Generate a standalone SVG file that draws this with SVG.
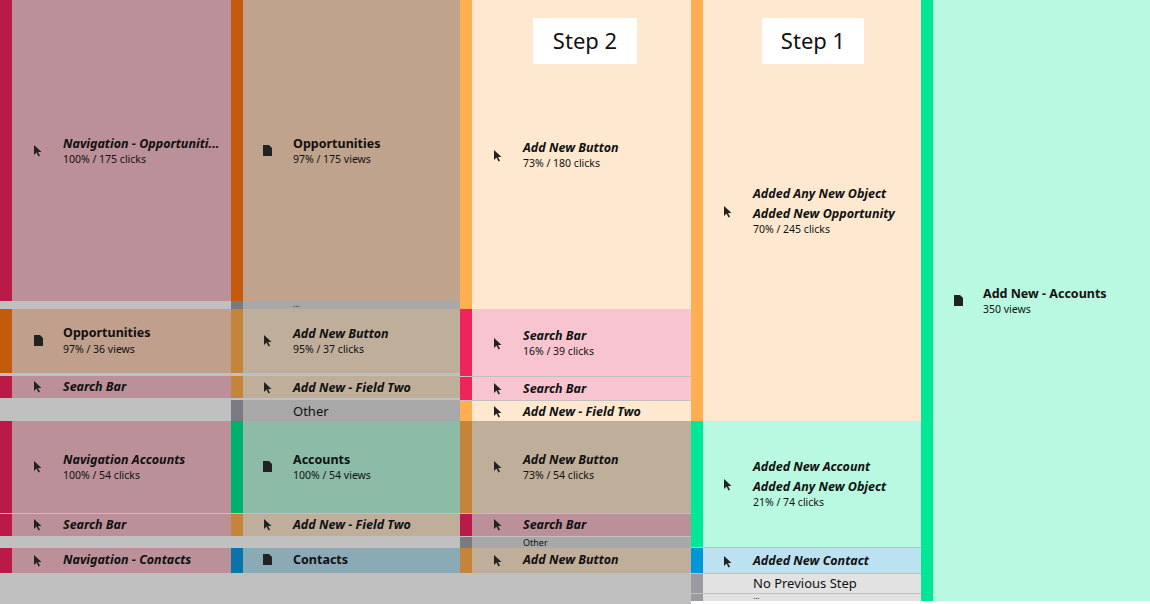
<svg xmlns="http://www.w3.org/2000/svg" width="1150" height="604" viewBox="0 0 1150 604">
<style>
text{font-family:"Noto Sans",sans-serif;fill:#111}
.t{font-size:12.5px;font-weight:700;font-style:italic}
.p{font-size:12.5px;font-weight:700}
.s{font-size:10.5px}
.o{font-size:13px}
.step{font-size:22px}
</style>
<defs>
<path id="cur" d="M0 0 L0 10 L2.5 7.5 L4.5 11.5 L6 10.8 L4 7 L7.5 7 Z" fill="#222"/>
<path id="doc" d="M0 0 H6 L9 3 V11 H0 Z" fill="#222"/>
</defs>
<rect width="1150" height="604" fill="#c0c0c0"/>
<g id="col1">
<rect x="0" y="0" width="231" height="301" fill="#bb9098"/><rect x="0" y="0" width="12" height="301" fill="#b91a47"/>
<use href="#cur" x="34" y="145"/><text x="63" y="148" class="t">Navigation - Opportuniti...</text><text x="63" y="163" class="s">100% / 175 clicks</text>
<rect x="0" y="309" width="231" height="64" fill="#c0a08c"/><rect x="0" y="309" width="12" height="64" fill="#c45b0c"/>
<use href="#doc" x="34" y="335"/><text x="63" y="337" class="p">Opportunities</text><text x="63" y="353" class="s">97% / 36 views</text>
<rect x="0" y="376" width="231" height="22" fill="#bb9098"/><rect x="0" y="376" width="12" height="22" fill="#b91a47"/>
<use href="#cur" x="34" y="381"/><text x="63" y="391" class="t">Search Bar</text>
<rect x="0" y="421" width="231" height="92" fill="#bb9098"/><rect x="0" y="421" width="12" height="92" fill="#b91a47"/>
<use href="#cur" x="34" y="461"/><text x="63" y="464" class="t">Navigation Accounts</text><text x="63" y="479" class="s">100% / 54 clicks</text>
<rect x="0" y="514" width="231" height="22" fill="#bb9098"/><rect x="0" y="514" width="12" height="22" fill="#b91a47"/>
<use href="#cur" x="34" y="519"/><text x="63" y="529" class="t">Search Bar</text>
<rect x="0" y="548" width="231" height="25" fill="#bb9098"/><rect x="0" y="548" width="12" height="25" fill="#b91a47"/>
<use href="#cur" x="34" y="555"/><text x="63" y="564" class="t">Navigation - Contacts</text>
</g>
<g id="col2">
<rect x="231" y="0" width="229" height="301" fill="#c0a38c"/><rect x="231" y="0" width="12" height="301" fill="#c45b0c"/>
<use href="#doc" x="263" y="145"/><text x="293" y="148" class="p">Opportunities</text><text x="293" y="163" class="s">97% / 175 views</text>
<rect x="231" y="301" width="229" height="8" fill="#a8a8a8"/><rect x="231" y="301" width="12" height="8" fill="#7a7a80"/>
<text x="293" y="307" font-size="8">...</text>
<rect x="231" y="309" width="229" height="64" fill="#bfae9a"/><rect x="231" y="309" width="12" height="64" fill="#c4843a"/>
<use href="#cur" x="264" y="335"/><text x="293" y="338" class="t">Add New Button</text><text x="293" y="353" class="s">95% / 37 clicks</text>
<rect x="231" y="376" width="229" height="22" fill="#bfae9a"/><rect x="231" y="376" width="12" height="22" fill="#c4843a"/>
<use href="#cur" x="264" y="382"/><text x="293" y="392" class="t">Add New - Field Two</text>
<rect x="231" y="400" width="229" height="21" fill="#a8a8a8"/><rect x="231" y="400" width="12" height="21" fill="#7a7a80"/>
<text x="293" y="416" class="o">Other</text>
<rect x="231" y="421" width="229" height="92" fill="#8cbba8"/><rect x="231" y="421" width="12" height="92" fill="#00b16e"/>
<use href="#doc" x="263" y="461"/><text x="293" y="464" class="p">Accounts</text><text x="293" y="479" class="s">100% / 54 views</text>
<rect x="231" y="514" width="229" height="22" fill="#bfae9a"/><rect x="231" y="514" width="12" height="22" fill="#c4843a"/>
<use href="#cur" x="264" y="519"/><text x="293" y="529" class="t">Add New - Field Two</text>
<rect x="231" y="548" width="229" height="25" fill="#8aaab5"/><rect x="231" y="548" width="12" height="25" fill="#0a74a8"/>
<use href="#doc" x="263" y="554"/><text x="293" y="564" class="p">Contacts</text>
</g>
<g id="col3">
<rect x="460" y="0" width="231" height="309" fill="#ffe8d0"/><rect x="460" y="0" width="12" height="309" fill="#ffae50"/>
<use href="#cur" x="494" y="150"/><text x="523" y="152" class="t">Add New Button</text><text x="523" y="167" class="s">73% / 180 clicks</text>
<rect x="460" y="309" width="231" height="67" fill="#f8c4d0"/><rect x="460" y="309" width="12" height="67" fill="#f0245a"/>
<use href="#cur" x="494" y="338"/><text x="523" y="340" class="t">Search Bar</text><text x="523" y="355" class="s">16% / 39 clicks</text>
<rect x="460" y="377" width="231" height="23" fill="#f8c4d0"/><rect x="460" y="377" width="12" height="23" fill="#f0245a"/>
<use href="#cur" x="494" y="383"/><text x="523" y="393" class="t">Search Bar</text>
<rect x="460" y="401" width="231" height="20" fill="#ffe8d0"/><rect x="460" y="401" width="12" height="20" fill="#ffae50"/>
<use href="#cur" x="494" y="406"/><text x="523" y="416" class="t">Add New - Field Two</text>
<rect x="460" y="421" width="231" height="92" fill="#bfae9a"/><rect x="460" y="421" width="12" height="92" fill="#c4843a"/>
<use href="#cur" x="494" y="461"/><text x="523" y="464" class="t">Add New Button</text><text x="523" y="479" class="s">73% / 54 clicks</text>
<rect x="460" y="514" width="231" height="22" fill="#bb9098"/><rect x="460" y="514" width="12" height="22" fill="#b91a47"/>
<use href="#cur" x="494" y="519"/><text x="523" y="529" class="t">Search Bar</text>
<rect x="460" y="537" width="231" height="11" fill="#a8a8a8"/><rect x="460" y="537" width="12" height="11" fill="#7a7a80"/>
<text x="523" y="546" font-size="9">Other</text>
<rect x="460" y="548" width="231" height="25" fill="#bfae9a"/><rect x="460" y="548" width="12" height="25" fill="#c4843a"/>
<use href="#cur" x="494" y="555"/><text x="523" y="564" class="t">Add New Button</text>
<rect x="533" y="18" width="104" height="46" fill="#fff"/><text x="585" y="49" class="step" text-anchor="middle">Step 2</text>
</g>
<g id="col4">
<rect x="691" y="0" width="230" height="421" fill="#ffe8d0"/><rect x="691" y="0" width="12" height="421" fill="#ffae50"/>
<use href="#cur" x="724" y="206"/><text x="753" y="198" class="t">Added Any New Object</text><text x="753" y="218" class="t">Added New Opportunity</text><text x="753" y="233" class="s">70% / 245 clicks</text>
<rect x="691" y="421" width="230" height="126" fill="#b9f8e1"/><rect x="691" y="421" width="12" height="126" fill="#00e896"/>
<use href="#cur" x="724" y="479"/><text x="753" y="471" class="t">Added New Account</text><text x="753" y="491" class="t">Added Any New Object</text><text x="753" y="506" class="s">21% / 74 clicks</text>
<rect x="691" y="548" width="230" height="25" fill="#bce2f2"/><rect x="691" y="548" width="12" height="25" fill="#0097d8"/>
<use href="#cur" x="724" y="556"/><text x="753" y="565" class="t">Added New Contact</text>
<rect x="691" y="574" width="230" height="19" fill="#e2e2e2"/><rect x="691" y="574" width="12" height="19" fill="#9a9aa0"/>
<text x="753" y="588" class="o">No Previous Step</text>
<rect x="691" y="594" width="230" height="7" fill="#e2e2e2"/><rect x="691" y="594" width="12" height="7" fill="#9a9aa0"/>
<rect x="691" y="601" width="459" height="3" fill="#fff"/>
<text x="753" y="599" font-size="8">...</text>
<rect x="762" y="18" width="102" height="46" fill="#fff"/><text x="813" y="49" class="step" text-anchor="middle">Step 1</text>
</g>
<g id="col5">
<rect x="921" y="0" width="229" height="601" fill="#b9f8e1"/><rect x="921" y="0" width="12" height="601" fill="#00e896"/>
<use href="#doc" x="954" y="295"/><text x="983" y="298" class="p">Add New - Accounts</text><text x="983" y="313" class="s">350 views</text>
</g>
<g id="connectors"></g>
</svg>
